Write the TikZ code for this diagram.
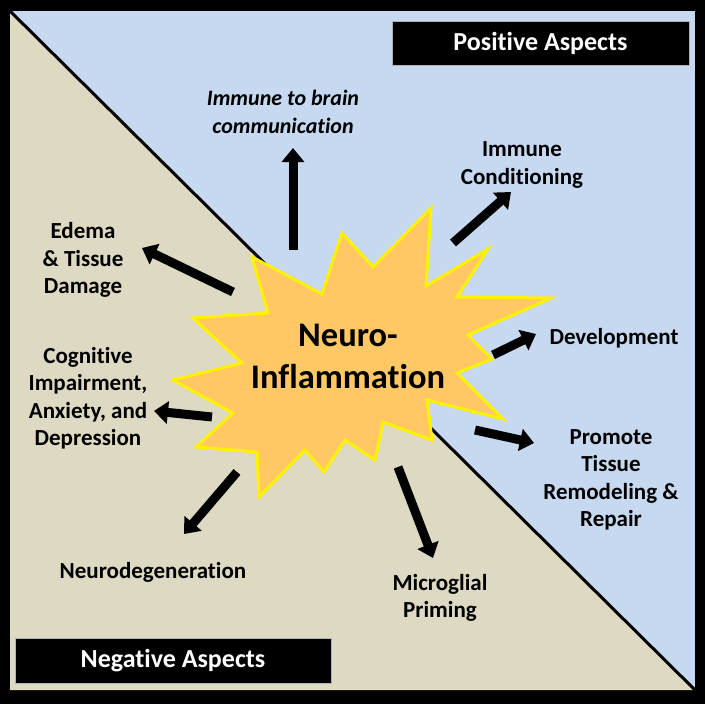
\documentclass[tikz,border=0pt]{standalone}
\usepackage{fontspec}
\setmainfont{Carlito}[Ligatures=NoCommon]
\usetikzlibrary{arrows.meta}
\definecolor{posblue}{RGB}{198,217,240}
\definecolor{negtan}{RGB}{221,217,195}
\definecolor{burstfill}{RGB}{255,200,100}

\begin{document}
\begin{tikzpicture}[x=1pt, y=-1pt,
  effect/.style={font=\bfseries\fontsize{23}{27.5}\selectfont, align=center},
  aspect/.style={fill=black, draw=gray!60, text=white, inner sep=0pt,
    font=\bfseries\fontsize{26}{30}\selectfont},
  push/.style={line width=9pt, -{Triangle[width=22pt,length=14pt]}}]
  % frame and the two halves
  \fill[black] (0,0) rectangle (705,704);
  \fill[posblue] (10,11) rectangle (695,690);
  \fill[negtan] (10,11) -- (695,690) -- (10,690) -- cycle;
  \draw[line width=3pt] (10,11) -- (695,690);
  \node[aspect, minimum width=297pt, minimum height=44pt] (pos) at (540.5,43) {Positive Aspects};
  \node[aspect, minimum width=316pt, minimum height=45pt] (neg) at (173,660.5) {Negative Aspects};

  % the burst
  \draw[fill=burstfill, draw=yellow, line width=3pt, line join=miter]
    (431,208) -- (426,286) -- (488,249) -- (457,297) -- (551,298) -- (468,335)
    -- (492,359) -- (457,373) -- (503,419) -- (427,400) -- (432,440) -- (383,422)
    -- (375,460) -- (345,440) -- (324,472) -- (305,450) -- (259,497) -- (257,452)
    -- (196,447) -- (233,413) -- (173,380) -- (242,363) -- (193,318) -- (268,313)
    -- (252,257) -- (322,294) -- (342,233) -- (373,267) -- cycle;
  \node[font=\bfseries\fontsize{34.5}{42}\selectfont, align=center] (core) at (348,356) {Neuro-\\Inflammation};

  % effects
  \node[effect, font=\bfseries\itshape\fontsize{22}{27.5}\selectfont] (brain) at (283,112) {Immune to brain\\communication};
  \node[effect] (cond) at (522,165) {Immune\\Conditioning};
  \node[effect] (dev) at (614,338) {Development};
  \node[effect] (repair) at (611,480) {Promote\\Tissue\\Remodeling \&\\Repair};
  \node[effect] (micro) at (440,598) {Microglial\\Priming};
  \node[effect] (degen) at (153,572) {Neurodegeneration};
  \node[effect] (cog) at (88,398) {Cognitive\\Impairment,\\Anxiety, and\\Depression};
  \node[effect] (edema) at (83,260) {Edema\\\& Tissue\\Damage};

  \coordinate (brainT) at (293,250); \coordinate (brainH) at (293,148);
  \coordinate (condT) at (453,243); \coordinate (condH) at (511,192);
  \coordinate (devT) at (493,355); \coordinate (devH) at (536,334);
  \coordinate (repairT) at (475,430); \coordinate (repairH) at (534,443);
  \coordinate (microT) at (398,467); \coordinate (microH) at (433,558);
  \coordinate (degenT) at (237,472); \coordinate (degenH) at (184,534);
  \coordinate (cogT) at (212,417); \coordinate (cogH) at (154,411);
  \coordinate (edemaT) at (233,292); \coordinate (edemaH) at (142,248);
  \foreach \e in {brain,cond,dev,repair,micro,degen,cog,edema}
    \draw[push] (\e T) -- (\e H);
\end{tikzpicture}
\end{document}
